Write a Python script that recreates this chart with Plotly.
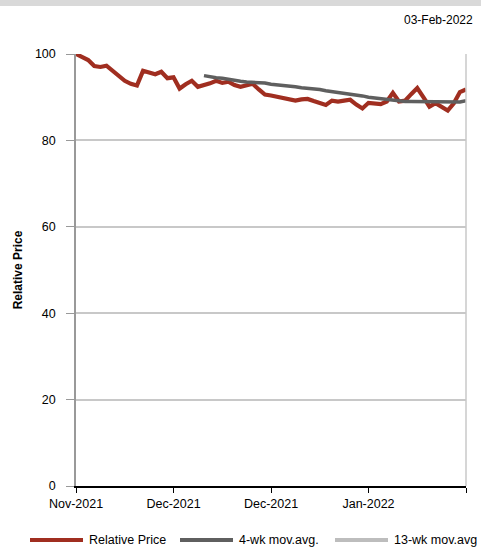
import plotly.graph_objects as go

red_color = "#a02e20"
ma4_color = "#5f5f5f"
ma13_color = "#bdbdbd"

# trading-day index, one point per day
relative_price = [100.0, 99.3, 98.6, 97.2, 97.0, 97.3, 96.2, 95.0, 93.8, 93.1,
                  92.7, 96.1, 95.8, 95.3, 95.9, 94.4, 94.6, 92.0, 93.0, 93.8,
                  92.4, 92.7, 93.2, 93.8, 93.3, 93.6, 92.8, 92.4, 92.8, 93.1,
                  91.8, 90.6, 90.4, 90.1, 89.8, 89.5, 89.2, 89.5, 89.6, 89.1,
                  88.7, 88.2, 89.2, 89.0, 89.2, 89.4, 88.3, 87.4, 88.7, 88.6,
                  88.4, 89.0, 91.0, 89.0, 89.2, 90.7, 92.1, 90.0, 87.8, 88.6,
                  87.8, 86.9, 88.6, 91.2, 91.8]
ma4_start = 21
ma4 = [95.0, 94.7, 94.5, 94.4, 94.1, 93.9, 93.7, 93.5, 93.5, 93.4,
       93.3, 93.0, 92.9, 92.8, 92.6, 92.4, 92.2, 92.1, 91.9, 91.8,
       91.5, 91.3, 91.1, 91.0, 90.9, 90.6, 90.3, 90.0, 89.8, 89.6,
       89.4, 89.3, 89.1, 89.0, 89.0, 89.0, 89.0, 89.0, 88.9, 88.8,
       88.8, 88.8, 88.9, 89.2]
ma13 = []  # not enough history for a 13-week average

series_names = ["Relative Price", "4-wk mov.avg.", "13-wk mov.avg"]
series_colors = [red_color, ma4_color, ma13_color]

tick_pos = [0, 16, 32, 48, 64]
tick_text = ["Nov-2021", "Dec-2021", "Dec-2021", "Jan-2022", ""]

x_all = list(range(len(relative_price)))
x_ma4 = list(range(ma4_start, ma4_start + len(ma4)))

fig = go.Figure()
fig.add_trace(go.Scatter(x=x_all, y=relative_price, mode="lines", name=series_names[0],
                         line=dict(color=red_color, width=4.2), showlegend=False))
fig.add_trace(go.Scatter(x=x_ma4, y=ma4, mode="lines", name=series_names[1],
                         line=dict(color=ma4_color, width=3.5), showlegend=False))
fig.add_trace(go.Scatter(x=list(range(len(ma13))), y=ma13, mode="lines", name=series_names[2],
                         line=dict(color=ma13_color, width=3.5), showlegend=False))

fig.update_xaxes(range=[0, 64], tickvals=tick_pos, ticktext=tick_text,
                 showgrid=False, showline=True, linecolor="#000000", linewidth=1.5,
                 ticks="outside", ticklen=5, tickcolor="#000000", zeroline=False)
fig.update_yaxes(range=[0, 100], dtick=20, showgrid=True, gridcolor="#c8c8c8", gridwidth=1.5,
                 showline=True, linecolor="#999999", linewidth=1.5,
                 ticks="outside", ticklen=8, tickcolor="#999999", zeroline=False,
                 ticklabelstandoff=8,
                 title=dict(text="<b>Relative Price</b>", font=dict(size=12), standoff=10))

# hand-drawn legend so the sample lines are as long as in the original
legend_x = [30, 180, 335]
shapes = [
    dict(type="rect", xref="paper", yref="paper", x0=-0.3, x1=1.1,
         y0=(486 - 6) / 432, y1=1.2, fillcolor="#d9d9d9", line=dict(width=0), layer="below"),
    dict(type="line", xref="paper", yref="paper", x0=1, x1=1, y0=0, y1=1,
         line=dict(color="#c8c8c8", width=1.5)),
]
annotations = [
    dict(text="03-Feb-2022", xref="paper", yref="paper", x=(475 - 76) / 390, y=(486 - 20) / 432,
         xanchor="right", yanchor="middle", showarrow=False, font=dict(size=12)),
]
leg_y = (486 - 540) / 432
for lx, name, col in zip(legend_x, series_names, series_colors):
    shapes.append(dict(type="line", xref="paper", yref="paper",
                       x0=(lx - 76) / 390, x1=(lx + 53 - 76) / 390, y0=leg_y, y1=leg_y,
                       line=dict(color=col, width=4)))
    annotations.append(dict(text=name, xref="paper", yref="paper", x=(lx + 57 - 76) / 390, y=leg_y,
                            xanchor="left", yanchor="middle", showarrow=False,
                            font=dict(size=12.5)))

fig.update_layout(
    width=481, height=547,
    margin={'t': 54, 'l': 76, 'b': 61, 'r': 15},
    plot_bgcolor="white", paper_bgcolor="white",
    font=dict(family="Liberation Sans, Arial, sans-serif", size=12.5, color="#000000"),
    showlegend=False,
    shapes=shapes,
    annotations=annotations,
)

fig.write_html("out.html", config={"displayModeBar": False},
               post_script="document.body.style.margin='0';")
